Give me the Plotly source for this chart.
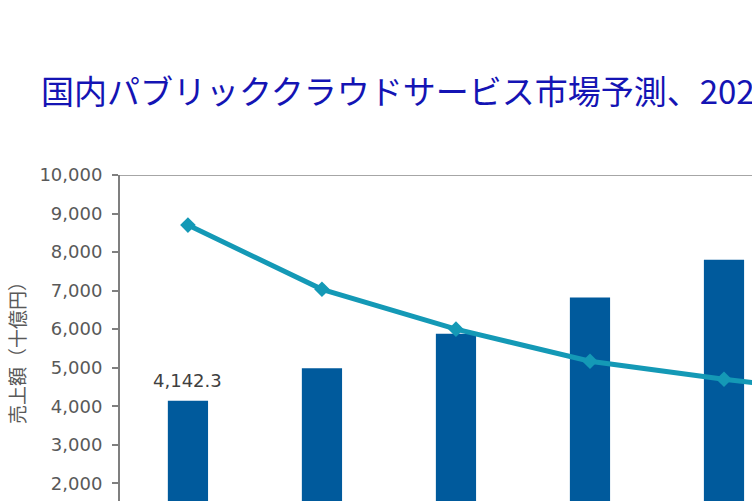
import plotly.graph_objects as go

# 国内パブリッククラウドサービス市場 売上額（十億円）と前年比成長率（%）
years = ["2020年", "2021年", "2022年", "2023年", "2024年", "2025年"]
revenue = [4142.3, 4985.0, 5880.0, 6820.0, 7800.0, 8780.0]
growth = [26.1, 21.1, 18.0, 15.5, 14.1, 12.9]
labelled_year = "2020年"
labelled_value = 4142.3

bar_color = "#005a9c"
line_color = "#1499b6"
num_font = dict(family="DejaVu Sans, Verdana, sans-serif", size=18, color="#595959")

W, H = 752, 501

fig = go.Figure()

fig.add_trace(go.Bar(
    x=years,
    y=revenue,
    width=0.3,
    marker=dict(color=bar_color, line=dict(width=0)),
    name="売上額",
))

fig.add_trace(go.Scatter(
    x=years,
    y=growth,
    yaxis="y2",
    mode="lines+markers",
    line=dict(color=line_color, width=5),
    marker=dict(symbol="diamond", size=12, color=line_color),
    name="前年比成長率",
))

# value label above the first bar
fig.add_annotation(
    x=labelled_year, y=labelled_value,
    text=f"{labelled_value:,.1f}",
    showarrow=False,
    yanchor="bottom",
    yshift=8,
    font=dict(family="DejaVu Sans, Verdana, sans-serif", size=18, color="#404040"),
)

# top border line of the plot area
fig.add_shape(type="line", xref="paper", yref="y", x0=0, x1=1, y0=10000, y1=10000,
              line=dict(color="#a6a6a6", width=2))

fig.add_annotation(
    text="売上額（十億円）",
    xref="paper", yref="paper",
    x=-104 / 632, xanchor="center",
    y=1 - (348 - 175) / 326, yanchor="middle",
    textangle=-90,
    showarrow=False,
    font=dict(family="Noto Sans CJK JP", size=19, color="#595959"),
)

fig.update_layout(
    width=W,
    height=H,
    margin=dict(l=120, r=0, t=175, b=0),
    paper_bgcolor="white",
    plot_bgcolor="white",
    showlegend=False,
    title=dict(
        text="国内パブリッククラウドサービス市場予測、2020年～2025年",
        x=41 / W, xanchor="left", xref="container",
        y=1 - 92 / H, yanchor="middle", yref="container",
        font=dict(family="Noto Sans CJK JP", size=33, color="#1414b4"),
    ),
    xaxis=dict(
        type="category",
        range=[-0.507, 4.209],
        showline=False,
        showgrid=False,
        ticks="",
        showticklabels=False,
    ),
    yaxis=dict(
        range=[1540, 10000],
        tickvals=[2000, 3000, 4000, 5000, 6000, 7000, 8000, 9000, 10000],
        tickformat=",d",
        showgrid=False,
        zeroline=False,
        showline=True,
        linecolor="#7f7f7f",
        linewidth=2,
        ticks="outside",
        ticklen=6,
        tickwidth=2,
        tickcolor="#7f7f7f",
        tickfont=num_font,
        ticklabelstandoff=6,
    ),
    yaxis2=dict(
        overlaying="y",
        side="right",
        range=[4.62, 30],
        showgrid=False,
        zeroline=False,
        showticklabels=False,
        showline=False,
    ),
)

# drop the default body margin so the figure sits at the window's corner
fig.write_html(
    "out.html",
    config={"displayModeBar": False},
    post_script="document.body.style.margin='0';document.body.style.overflow='hidden';",
)
